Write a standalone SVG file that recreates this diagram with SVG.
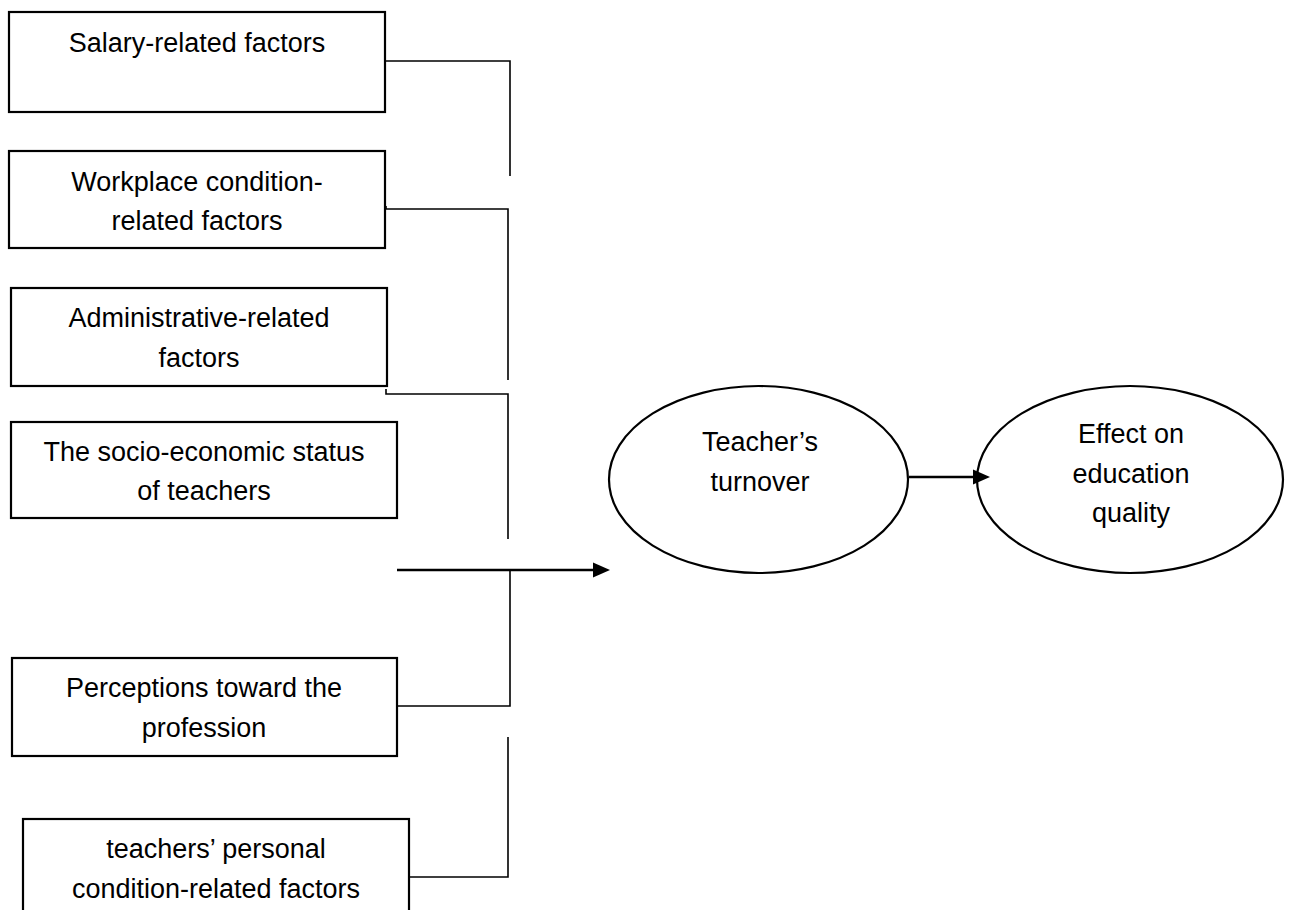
<svg xmlns="http://www.w3.org/2000/svg" width="1289" height="910" viewBox="0 0 1289 910">
<style>
.box{fill:#fff;stroke:#000;stroke-width:2.2}
.ell{fill:#fff;stroke:#000;stroke-width:2.2}
.t{font-family:"Liberation Sans",Arial,sans-serif;font-size:27px;fill:#000;text-anchor:middle}
.c{fill:none;stroke:#000;stroke-width:1.6}
.a{fill:none;stroke:#000;stroke-width:2.4}
</style>
<defs>
<marker id="ah" markerUnits="userSpaceOnUse" markerWidth="18" markerHeight="16" refX="7" refY="8" orient="auto">
<path d="M0,0.5 L17,8 L0,15.5 z" fill="#000"/>
</marker>
</defs>
<rect width="1289" height="910" fill="#fff"/>
<g id="salary">
<rect class="box" x="9" y="12" width="376" height="100"/>
<text class="t" x="197" y="52">Salary-related factors</text>
</g>
<g id="workplace">
<rect class="box" x="9" y="151" width="376" height="97"/>
<text class="t" x="197" y="191">Workplace condition-</text>
<text class="t" x="197" y="230">related factors</text>
</g>
<g id="administrative">
<rect class="box" x="11" y="288" width="376" height="98"/>
<text class="t" x="199" y="327">Administrative-related</text>
<text class="t" x="199" y="367">factors</text>
</g>
<g id="socioeconomic">
<rect class="box" x="11" y="422" width="386" height="96"/>
<text class="t" x="204" y="461">The socio-economic status</text>
<text class="t" x="204" y="500">of teachers</text>
</g>
<g id="perceptions">
<rect class="box" x="12" y="658" width="385" height="98"/>
<text class="t" x="204" y="697">Perceptions toward the</text>
<text class="t" x="204" y="737">profession</text>
</g>
<g id="personal">
<rect class="box" x="23" y="819" width="386" height="100"/>
<text class="t" x="216" y="858">teachers’ personal</text>
<text class="t" x="216" y="898">condition-related factors</text>
</g>
<g id="turnover">
<ellipse class="ell" cx="758.5" cy="479.5" rx="149.5" ry="93.5"/>
<text class="t" x="760" y="451">Teacher’s</text>
<text class="t" x="760" y="491">turnover</text>
</g>
<g id="quality">
<ellipse class="ell" cx="1130" cy="479.5" rx="153" ry="93.5"/>
<text class="t" x="1131" y="443">Effect on</text>
<text class="t" x="1131" y="483">education</text>
<text class="t" x="1131" y="522">quality</text>
</g>
<g id="connectors">
<path class="c" d="M385,61 H510 V176"/>
<path class="c" d="M386,206 V209 H508 V380"/>
<path class="c" d="M386,389 V394 H508 V539"/>
<path class="c" d="M397,706 H510 V570"/>
<path class="c" d="M409,877 H508 V737"/>
<path class="a" d="M397,570 H600" marker-end="url(#ah)"/>
<path class="a" d="M909,477 H980" marker-end="url(#ah)"/>
</g>
</svg>
